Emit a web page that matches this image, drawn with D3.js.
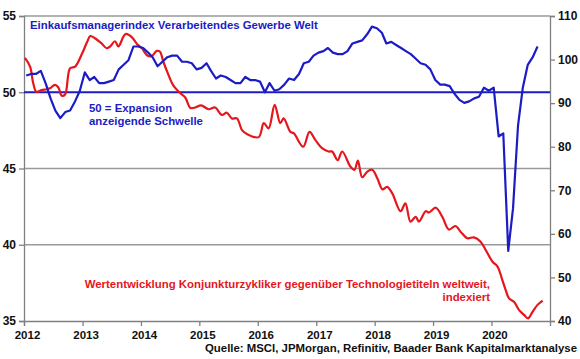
<!DOCTYPE html>
<html>
<head>
<meta charset="utf-8">
<script src="https://cdn.jsdelivr.net/npm/d3@7"></script>
<style>
  body { margin: 0; background: #fff; }
  svg text { font-family: "Liberation Sans", Arial, sans-serif; font-weight: bold; }
</style>
</head>
<body>
<div id="main"></div>
<script>
// PMI manufacturing world, monthly, Jan 2012 .. Oct 2020 (left axis)
const pmiStart = [2012, 0];
const pmiValues = [
  51.1, 51.2, 51.2, 51.4, 50.6, 49.6, 48.8, 48.3, 48.7, 48.8, 49.4, 50.1,
  51.3, 50.8, 51.0, 50.6, 50.6, 50.7, 50.8, 51.5, 51.8, 52.1, 53.0, 53.0,
  52.9, 52.6, 52.3, 51.7, 52.0, 52.3, 52.4, 52.4, 52.0, 52.0, 51.9, 51.5,
  51.6, 51.9, 51.4, 50.9, 51.1, 51.0, 50.8, 50.6, 50.6, 51.0, 50.8, 50.8,
  50.7, 50.0, 50.6, 50.1, 50.2, 50.5, 50.9, 50.8, 51.2, 51.9, 52.0, 52.4,
  52.6, 52.7, 52.9, 52.6, 52.5, 52.5, 52.7, 53.2, 53.3, 53.4, 53.8, 54.3,
  54.2, 53.9, 53.2, 53.3, 53.1, 52.9, 52.7, 52.5, 52.2, 51.9, 51.8, 51.5,
  50.8, 50.5, 50.5, 50.4, 49.9, 49.5, 49.3, 49.4, 49.6, 49.7, 50.3, 50.1,
  50.3, 47.1, 47.3, 39.6, 42.4, 47.8, 50.3, 51.8, 52.3, 53.0
];

// cyclicals vs. tech, indexed (right axis)
const relDates = [
  "2012-01-07", "2012-02-08", "2012-02-28", "2012-03-19", "2012-04-20", "2012-05-21",
  "2012-06-11", "2012-07-12", "2012-08-03", "2012-08-24", "2012-09-14", "2012-10-15",
  "2012-11-16", "2012-12-27", "2013-01-28", "2013-02-18", "2013-03-19", "2013-04-30",
  "2013-06-01", "2013-06-22", "2013-07-23", "2013-08-13", "2013-09-14", "2013-09-30",
  "2013-11-06", "2013-12-07", "2014-01-07", "2014-02-08", "2014-03-09", "2014-04-10",
  "2014-04-30", "2014-05-21", "2014-06-22", "2014-07-23", "2014-09-04", "2014-10-05",
  "2014-11-06", "2014-12-06", "2015-01-12", "2015-02-28", "2015-04-10", "2015-05-21",
  "2015-06-22", "2015-07-23", "2015-08-24", "2015-09-25", "2015-10-26", "2016-01-07",
  "2016-02-08", "2016-03-09", "2016-04-16", "2016-05-21", "2016-06-11", "2016-07-23",
  "2016-08-13", "2016-10-11", "2016-11-20", "2016-12-27", "2017-02-08", "2017-03-19",
  "2017-04-10", "2017-05-15", "2017-06-12", "2017-08-03", "2017-08-28", "2017-09-18",
  "2017-10-15", "2017-11-16", "2017-12-17", "2018-01-18", "2018-02-19", "2018-03-20",
  "2018-04-21", "2018-06-12", "2018-07-12", "2018-08-13", "2018-09-14", "2018-10-05",
  "2018-11-16", "2018-12-06", "2019-01-18", "2019-02-28", "2019-04-10", "2019-05-21",
  "2019-06-22", "2019-08-03", "2019-09-14", "2019-10-25", "2019-11-26", "2020-01-08",
  "2020-02-08", "2020-03-09", "2020-03-30", "2020-04-20", "2020-05-21", "2020-06-22",
  "2020-07-23", "2020-08-17", "2020-09-14", "2020-10-15", "2020-11-16"
];
const relValues = [
  100.4, 98.4, 94.5, 92.6, 93.0, 93.2,
  93.4, 94.2, 93.6, 91.7, 92.0, 98.0,
  98.4, 101.2, 103.9, 105.4, 104.9, 103.7,
  102.6, 103.0, 104.2, 103.0, 105.3, 105.9,
  105.1, 103.6, 102.6, 101.0, 100.8, 102.0,
  101.8, 99.5, 96.5, 94.0, 92.3, 91.3,
  88.9, 89.0, 89.5, 88.6, 89.0, 87.3,
  87.8, 86.5, 86.5, 83.8, 82.9, 82.2,
  85.4, 84.2, 89.6, 85.4, 86.5, 83.4,
  83.1, 80.0, 83.4, 81.5, 79.6, 78.9,
  78.9, 76.9, 78.9, 75.4, 74.7, 76.8,
  73.0, 74.3, 74.7, 72.7, 70.2, 70.8,
  69.3, 65.2, 67.0, 62.8, 63.9, 62.8,
  65.2, 64.9, 66.0, 63.9, 61.0, 61.8,
  60.5, 59.0, 59.2, 58.2, 56.3, 53.6,
  52.5, 49.4, 47.1, 45.2, 44.4, 42.5,
  41.4, 40.6, 42.1, 43.7, 44.7
];

const years = [2012, 2013, 2014, 2015, 2016, 2017, 2018, 2019, 2020];
const leftTicks = [35, 40, 45, 50, 55];
const rightTicks = [40, 50, 60, 70, 80, 90, 100, 110];
const gridTicks = [40, 45, 55];
const threshold = 50;

const blue = '#1c1cc4';
const red = '#e5161c';

const width = 580, height = 359;
const margin = {top: 16, right: 30, bottom: 38, left: 24};
const chartWidth = width - margin.left - margin.right;
const chartHeight = height - margin.top - margin.bottom;

const pmiData = pmiValues.map((v, i) => ({date: new Date(pmiStart[0], pmiStart[1] + i, 15), value: v}));
const parse = d3.timeParse('%Y-%m-%d');
const relData = relDates.map((d, i) => ({date: parse(d), value: relValues[i]}));

const svg = d3.select('#main')
  .append('svg')
  .attr('width', width)
  .attr('height', height);

const g = svg.append('g')
  .attr('transform', `translate(${margin.left}, ${margin.top})`);

const xScale = d3.scaleTime()
  .domain([new Date(2012, 0, 1), new Date(2021, 0, 1)])
  .range([0, chartWidth]);

const yLeft = d3.scaleLinear().domain([35, 55]).range([chartHeight, 0]);
const yRight = d3.scaleLinear().domain([40, 110]).range([chartHeight, 0]);

// gray grid lines
g.selectAll('.grid')
  .data(gridTicks)
  .enter()
  .append('line')
  .attr('x1', 0)
  .attr('x2', chartWidth)
  .attr('y1', d => yLeft(d))
  .attr('y2', d => yLeft(d))
  .attr('stroke', '#9a9a9a')
  .attr('stroke-width', 1.3);

// axes
const xAxis = g.append('g')
  .attr('transform', `translate(0, ${chartHeight})`)
  .call(d3.axisBottom(xScale)
    .tickValues(years.map(y => new Date(y, 0, 1)))
    .tickFormat(d3.timeFormat('%Y'))
    .tickSize(5)
    .tickPadding(5));

const yAxisLeft = g.append('g')
  .call(d3.axisLeft(yLeft).tickValues(leftTicks).tickSize(5).tickPadding(3));

const yAxisRight = g.append('g')
  .attr('transform', `translate(${chartWidth}, 0)`)
  .call(d3.axisRight(yRight).tickValues(rightTicks).tickSize(5).tickPadding(3));

[xAxis, yAxisLeft, yAxisRight].forEach(ax => {
  ax.select('.domain').attr('stroke', '#808080').attr('stroke-width', 1.3);
  ax.selectAll('.tick line').attr('stroke', '#808080').attr('stroke-width', 1.3);
  ax.selectAll('.tick text')
    .attr('fill', '#111')
    .style('font-size', '12px')
    .style('font-weight', 'bold');
});
xAxis.selectAll('.tick text').attr('dx', 3).style('font-size', '11.5px');

// threshold line 50
g.append('line')
  .attr('x1', 0)
  .attr('x2', chartWidth)
  .attr('y1', yLeft(threshold))
  .attr('y2', yLeft(threshold))
  .attr('stroke', blue)
  .attr('stroke-width', 2);

// relative performance line
g.append('path')
  .datum(relData)
  .attr('fill', 'none')
  .attr('stroke', red)
  .attr('stroke-width', 2.2)
  .attr('stroke-linejoin', 'round')
  .attr('d', d3.line()
    .curve(d3.curveCatmullRom.alpha(0.5))
    .x(d => xScale(d.date))
    .y(d => yRight(d.value)));

// PMI line
g.append('path')
  .datum(pmiData)
  .attr('fill', 'none')
  .attr('stroke', blue)
  .attr('stroke-width', 2.2)
  .attr('stroke-linejoin', 'round')
  .attr('d', d3.line()
    .x(d => xScale(d.date))
    .y(d => yLeft(d.value)));

// labels
const labelSize = '11.4px';
svg.append('text')
  .attr('x', 30).attr('y', 29)
  .attr('fill', blue)
  .style('font-size', labelSize)
  .text('Einkaufsmanagerindex Verarbeitendes Gewerbe Welt');

svg.append('text')
  .attr('x', 89).attr('y', 112)
  .attr('fill', blue)
  .style('font-size', labelSize)
  .text('50 = Expansion');
svg.append('text')
  .attr('x', 89).attr('y', 125)
  .attr('fill', blue)
  .style('font-size', labelSize)
  .text('anzeigende Schwelle');

svg.append('text')
  .attr('x', 490).attr('y', 288)
  .attr('text-anchor', 'end')
  .attr('fill', red)
  .style('font-size', labelSize)
  .text('Wertentwicklung Konjunkturzykliker gegenüber Technologietiteln weltweit,');
svg.append('text')
  .attr('x', 490).attr('y', 301)
  .attr('text-anchor', 'end')
  .attr('fill', red)
  .style('font-size', labelSize)
  .text('indexiert');

svg.append('text')
  .attr('x', 577).attr('y', 352)
  .attr('text-anchor', 'end')
  .attr('fill', '#111')
  .style('font-size', labelSize)
  .text('Quelle: MSCI, JPMorgan, Refinitiv, Baader Bank Kapitalmarktanalyse');
</script>
</body>
</html>
